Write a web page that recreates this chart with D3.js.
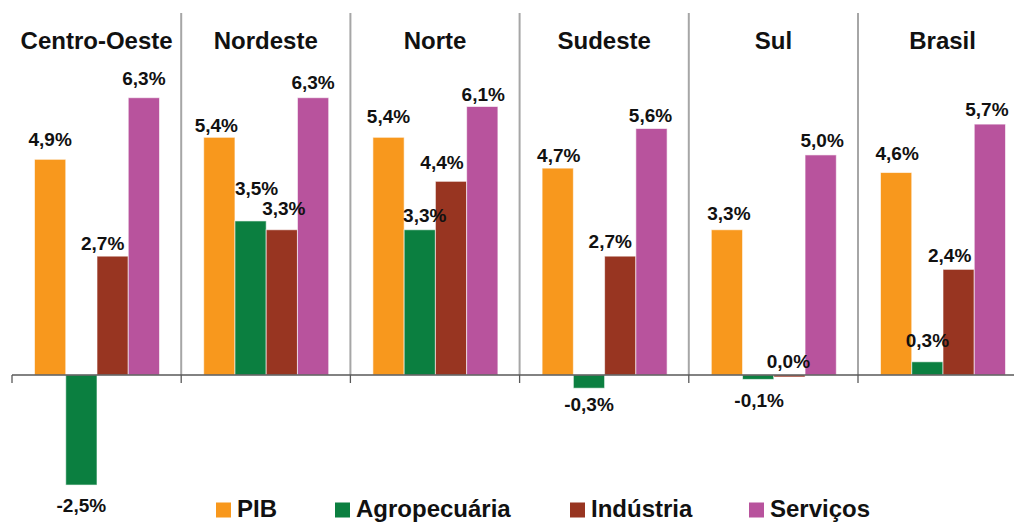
<html>
<head>
<meta charset="utf-8">
<title>PIB por região</title>
<script src="https://d3js.org/d3.v7.min.js"></script>
<style>
body { margin: 0; background: #fff; }
text { font-family: "Liberation Sans", Arial, sans-serif; font-weight: bold; fill: #111; }
</style>
</head>
<body>
<svg width="1014" height="522"></svg>
<script>
// dados
var regioes = ["Centro-Oeste", "Nordeste", "Norte", "Sudeste", "Sul", "Brasil"];
var series = ["PIB", "Agropecuária", "Indústria", "Serviços"];
var pib = [4.9, 5.4, 5.4, 4.7, 3.3, 4.6];
var agro = [-2.5, 3.5, 3.3, -0.3, -0.1, 0.3];
var industria = [2.7, 3.3, 4.4, 2.7, 0.0, 2.4];
var servicos = [6.3, 6.3, 6.1, 5.6, 5.0, 5.7];
var cores = ["#F8981D", "#0B7F40", "#983521", "#B8539D"];

// ajuste manual dos rótulos [dx, distância da barra]
var ajuste = [
  [[0,13],[0,27],[-10,6],[0,12.7]],
  [[-3,5.7],[6,26],[2,15],[0,8.5]],
  [[0,14.7],[5,8],[-9,12],[1,6]],
  [[1,6],[0,23],[-10,8],[-1,7]],
  [[2,10],[1,28],[-1,6.7],[1.5,7.7]],
  [[1,13],[0,15],[-9,7],[-3,8]]
];

var valores = [pib, agro, industria, servicos];
var dados = [];
regioes.forEach(function(r, i) {
  series.forEach(function(s, j) {
    dados.push({regiao: r, serie: s, valor: valores[j][i], i: i, j: j});
  });
});

var svg = d3.select("svg");
var painel = 169.2;
var x0 = d3.scaleBand().domain(regioes).range([12, 12 + painel * 6]).padding(0);
var x1 = d3.scaleBand().domain(series).range([22.5, 147.5]).padding(0);
var y = d3.scaleLinear().domain([0, 6.3]).range([375, 97.7]);
var cor = d3.scaleOrdinal().domain(series).range(cores);

// separadores
svg.append("g").selectAll("line").data(regioes.slice(1)).enter().append("line")
  .attr("x1", function(d) { return x0(d); }).attr("x2", function(d) { return x0(d); })
  .attr("y1", 13).attr("y2", 375)
  .style("stroke", "#A6A6A6").style("stroke-width", 2);

// barras
svg.append("g").selectAll("rect").data(dados).enter().append("rect")
  .attr("x", function(d) { return x0(d.regiao) + x1(d.serie); })
  .attr("width", x1.bandwidth())
  .attr("y", function(d) { return Math.min(y(d.valor), y(0)); })
  .attr("height", function(d) { return Math.max(Math.abs(y(d.valor) - y(0)), 2); })
  .style("fill", function(d) { return cor(d.serie); })
  .style("stroke", "rgba(255,255,255,0.6)").style("stroke-width", 1);

// eixo
svg.append("line").attr("x1", 12).attr("x2", 1014).attr("y1", 375).attr("y2", 375)
  .style("stroke", "#595959").style("stroke-width", 1.3);
svg.append("g").selectAll("line").data(regioes).enter().append("line")
  .attr("x1", function(d) { return x0(d); }).attr("x2", function(d) { return x0(d); })
  .attr("y1", 375).attr("y2", 383)
  .style("stroke", "#595959").style("stroke-width", 1.3);

// rótulos
svg.append("g").selectAll("text").data(dados).enter().append("text")
  .attr("text-anchor", "middle")
  .style("font-size", "19px")
  .attr("x", function(d) { return x0(d.regiao) + x1(d.serie) + x1.bandwidth() / 2 + ajuste[d.i][d.j][0]; })
  .attr("y", function(d) {
    var a = ajuste[d.i][d.j][1];
    return d.valor < 0 ? y(d.valor) + a : y(d.valor) - a;
  })
  .text(function(d) { return d.valor.toFixed(1).replace(".", ",") + "%"; });

// títulos
svg.append("g").selectAll("text").data(regioes).enter().append("text")
  .attr("text-anchor", "middle")
  .style("font-size", "24px")
  .attr("x", function(d) { return x0(d) + painel / 2; })
  .attr("y", 49)
  .text(function(d) { return d; });

// legenda
var legX = [216, 335, 570, 749];
var leg = svg.append("g").selectAll("g").data(series).enter().append("g")
  .attr("transform", function(d, i) { return "translate(" + legX[i] + ",502.5)"; });
leg.append("rect").attr("width", 15).attr("height", 15)
  .style("fill", function(d) { return cor(d); });
leg.append("text").attr("x", 21).attr("y", 14.5)
  .style("font-size", "24px")
  .text(function(d) { return d; });
</script>
</body>
</html>
